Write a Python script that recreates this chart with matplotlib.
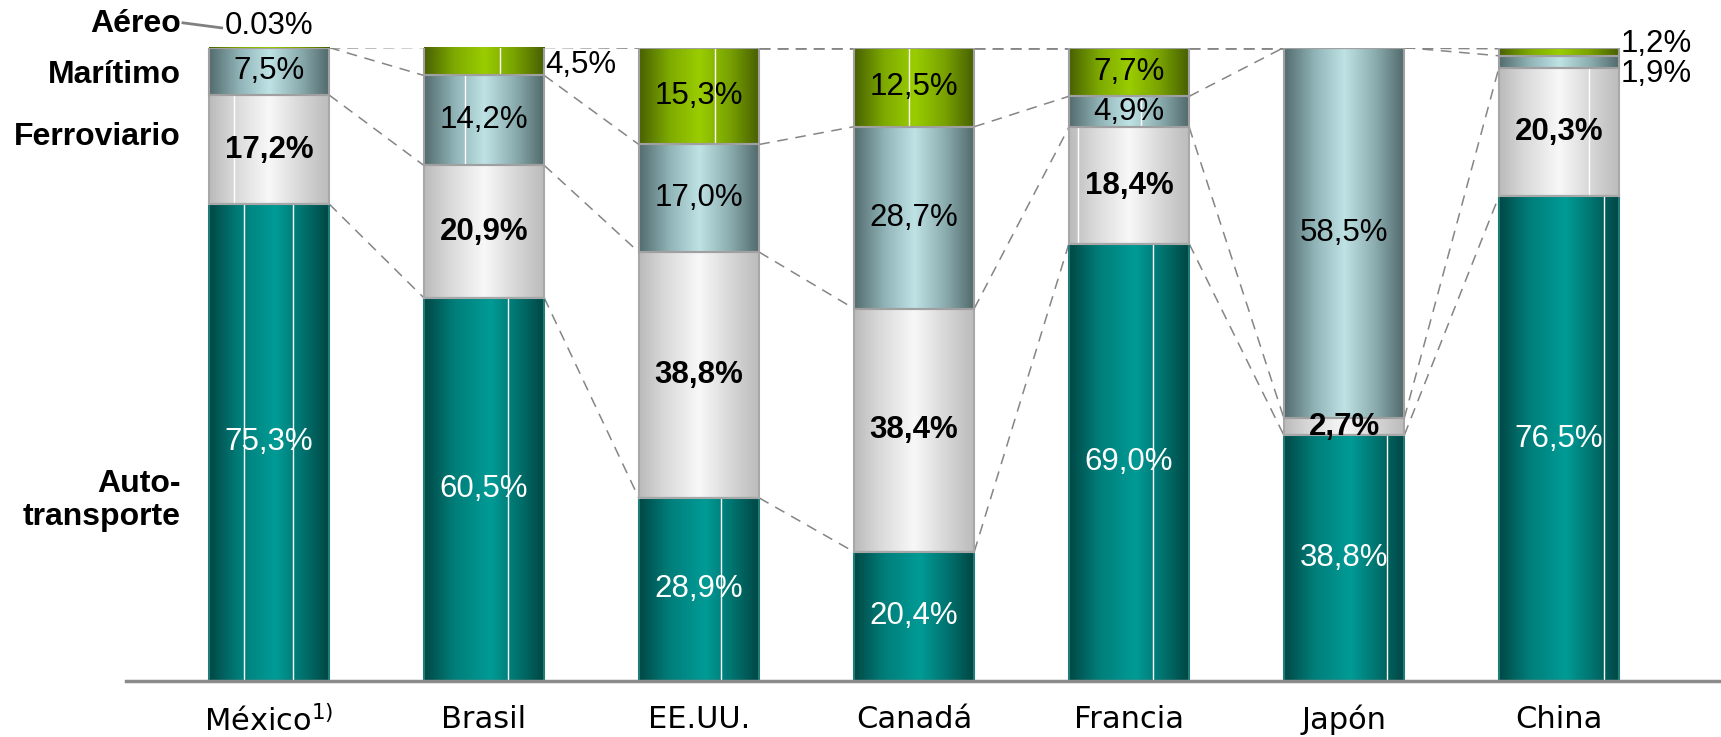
import numpy as np
import matplotlib.pyplot as plt
from matplotlib.colors import LinearSegmentedColormap

# reparto modal de la carga por país (%)
paises = ['México$^{1)}$', 'Brasil', 'EE.UU.', 'Canadá', 'Francia', 'Japón', 'China']
auto = [75.3, 60.5, 28.9, 20.4, 69.0, 38.8, 76.5]
ferro = [17.2, 20.9, 38.8, 38.4, 18.4, 2.7, 20.3]
maritimo = [7.5, 14.2, 17.0, 28.7, 4.9, 58.5, 1.9]
aereo = [0.03, 4.5, 15.3, 12.5, 7.7, 0.0, 1.2]
modos = ['Auto-\ntransporte', 'Ferroviario', 'Marítimo', 'Aéreo']

plt.rcParams['font.family'] = ['Liberation Sans', 'DejaVu Sans']
plt.rcParams['mathtext.fontset'] = 'dejavusans'

# gradientes tipo cilindro (oscuro - claro - oscuro)
CMAPS = [
    LinearSegmentedColormap.from_list('teal', [(0, '#004845'), (0.25, '#007e7a'), (0.55, '#009b96'), (0.8, '#006e6a'), (1, '#004542')]),
    LinearSegmentedColormap.from_list('gris', [(0, '#bababa'), (0.2, '#d8d8d8'), (0.5, '#f8f8f8'), (0.8, '#d2d2d2'), (1, '#bbbbbb')]),
    LinearSegmentedColormap.from_list('azul', [(0, '#536b6e'), (0.25, '#8fb3b6'), (0.5, '#bfe2e5'), (0.75, '#8caeb1'), (1, '#50686a')]),
    LinearSegmentedColormap.from_list('verde', [(0, '#486000'), (0.25, '#7eaa00'), (0.5, '#9acd00'), (0.75, '#79a200'), (1, '#465e00')]),
]
EDGES = ['#1f7c78', '#a8a8a8', '#a0a0a0', '#a0a0a0']
TXT_COLOR = ['white', 'black', 'black', 'black']
TXT_WEIGHT = ['normal', 'bold', 'normal', 'normal']

# líneas blancas finas que deja el degradado del original
WHITE_LINES = {
    (0, 0): [0.29, 0.70], (1, 0): [0.21],
    (0, 1): [0.70], (2, 1): [0.34], (3, 1): [0.63],
    (0, 2): [0.68], (3, 2): [0.63],
    (3, 3): [0.46],
    (0, 4): [0.70], (1, 4): [0.08], (2, 4): [0.60],
    (0, 5): [0.86],
    (0, 6): [0.87], (1, 6): [0.75],
}

fig = plt.figure(figsize=(17.21, 7.37), dpi=100)
ax = fig.add_axes([0.0732, 0.076, 0.9268, 0.8595])

x = np.arange(len(paises))
W = 0.56
series = [auto, ferro, maritimo, aereo]
bottom = np.zeros(len(paises))
tops = []
grad = np.linspace(0, 1, 256)[np.newaxis, :]

for s, vals in enumerate(series):
    vals = np.array(vals)
    bars = ax.bar(x, vals, width=W, bottom=bottom, facecolor='none',
                  edgecolor=EDGES[s], linewidth=1.5, zorder=3)
    for i, p in enumerate(bars.patches):
        if vals[i] <= 0:
            continue
        x0, y0 = p.get_x(), p.get_y()
        w, h = p.get_width(), p.get_height()
        im = ax.imshow(grad, cmap=CMAPS[s], extent=[x0, x0 + w, y0, y0 + h],
                       aspect='auto', interpolation='bicubic', zorder=2)
        im.set_clip_path(p)
        for f in WHITE_LINES.get((s, i), []):
            ax.vlines(x0 + f * w, y0, y0 + h, color='white', lw=1, zorder=2.5)
        # etiqueta del valor
        lab = f'{vals[i]:.1f}'.replace('.', ',') + '%'
        if vals[i] >= 4.7 or s == 1:
            ax.text(x[i], y0 + h / 2, lab, ha='center', va='center', fontsize=22.5,
                    color=TXT_COLOR[s], fontweight=TXT_WEIGHT[s], zorder=5)
        elif vals[i] >= 1:
            dy = {(3, 6): 1.3, (2, 6): -1.9}.get((s, i), -0.6)
            ax.text(x[i] + W / 2 + 0.005, y0 + h / 2 + dy, lab, ha='left', va='center',
                    fontsize=22.5, color='black', zorder=5)
    bottom = bottom + vals
    tops.append(bottom.copy())

# 0.03% de México encima de la barra
ax.text(x[0], 103.4, f'{aereo[0]:.2f}%', ha='center', va='center', fontsize=22.5, zorder=5)

# líneas discontinuas que unen los límites entre barras
for k, cum in enumerate(tops):
    for i in range(len(paises) - 1):
        ax.plot([x[i] + W / 2, x[i + 1] - W / 2], [cum[i], cum[i + 1]],
                color='#858585', lw=2 if k == 3 else 1.1,
                dashes=(4, 2.5) if k == 3 else (7, 5), zorder=1)

# nombres de los modos a la izquierda
label_y = [28.5, 85.9, 95.7, 103.7]
for nombre, yy in zip(modos, label_y):
    ax.text(-0.41, yy, nombre, ha='right', va='center', fontsize=23,
            fontweight='bold', linespacing=1.1, zorder=5)
ax.plot([-0.40, -0.22], [103.9, 103.1], color='#808080', lw=2, clip_on=False)

ax.set_xlim(-0.665, 6.753)
ax.set_ylim(0, 100)
ax.set_xticks(x)
ax.set_xticklabels(paises, fontsize=22, family='DejaVu Sans')
ax.tick_params(axis='x', length=0, pad=17)
ax.set_yticks([])
for side in ['left', 'right', 'top']:
    ax.spines[side].set_visible(False)
ax.spines['bottom'].set_color('#8c8c8c')
ax.spines['bottom'].set_linewidth(2.5)
ax.spines['bottom'].set_zorder(4)

fig.savefig('out.png', dpi=100)
